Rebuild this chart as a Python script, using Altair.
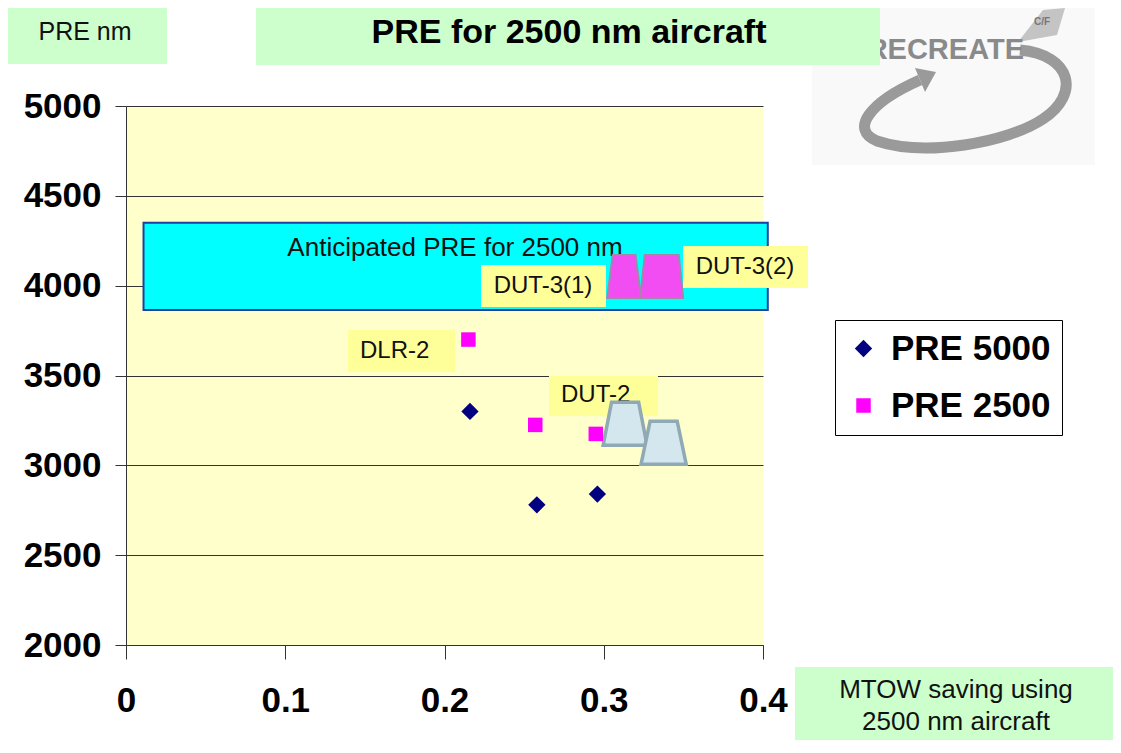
import altair as alt
import pandas as pd

# ---------------- data ----------------
x_ticks = [0, 0.1, 0.2, 0.3, 0.4]
y_ticks = [2000, 2500, 3000, 3500, 4000, 4500, 5000]

series_names = ["PRE 5000", "PRE 2500"]
pre5000_x = [0.216, 0.258, 0.296]
pre5000_y = [3300, 2780, 2840]
pre2500_x = [0.215, 0.257, 0.295]
pre2500_y = [3700, 3225, 3175]

trap_names = ["DUT-3(1)", "DUT-3(2)", "DUT-2 a", "DUT-2 b"]
trap_x = [0.3128, 0.3364, 0.3134, 0.3376]
trap_y = [4051, 4051, 3232, 3126]

band_x = [0.011, 0.403]
band_y = [3865, 4350]
band_text = "Anticipated PRE for 2500 nm"

title_text = "PRE for 2500 nm aircraft"
y_title_text = "PRE nm"
x_title_lines = ["MTOW saving using", "2500 nm aircraft"]
label_texts = ["DUT-3(1)", "DUT-3(2)", "DLR-2", "DUT-2"]

FONT = "Liberation Sans"

# ---------------- scales / axes ----------------
xs = alt.Scale(domain=[0, 0.4], nice=False, zero=False)
ys = alt.Scale(domain=[2000, 5000], nice=False, zero=False)
x_axis = alt.Axis(values=x_ticks, format="~g", title=None, grid=False,
                  tickSize=14, tickColor="#333", domainColor="#333",
                  labelFontSize=35, labelFontWeight="bold", labelFont=FONT,
                  labelColor="#000", labelPadding=24, labelFlush=False)
y_axis = alt.Axis(values=y_ticks, format="d", title=None, grid=True,
                  gridColor="#333", gridWidth=1, tickSize=11, tickColor="#333",
                  domainColor="#333", labelFontSize=35, labelFontWeight="bold",
                  labelFont=FONT, labelColor="#000", labelPadding=14, labelFlush=False)

one = alt.Data(values=[{}])


def box(x0, x1, y0, y1, fill, **kw):
    return alt.Chart(one).mark_rect(fill=fill, clip=False, **kw).encode(
        x=alt.value(x0), x2=alt.value(x1), y=alt.value(y0), y2=alt.value(y1))


def txt(s, x, y, size, weight="normal", align="center", color="#111"):
    return alt.Chart(one).mark_text(text=s, font=FONT, fontSize=size, fontWeight=weight,
                                    align=align, baseline="middle", color=color,
                                    clip=False).encode(x=alt.value(x), y=alt.value(y))


def glyph(path, x, y, **kw):
    return alt.Chart(one).mark_point(shape=path, size=4, clip=False, opacity=1, **kw).encode(
        x=alt.value(x), y=alt.value(y))


layers = []

# logo (decoration)
layers.append(box(686, 969, -98, 59, "#F9F9F9"))
layers.append(glyph("M55,-45 C108,-40 115,0 78,24 C42,48 -40,62 -88,46 C-115,35 -97,8 -45,-15",
                    839, -11, filled=False, stroke="#9a9a9a", strokeWidth=11))
layers.append(glyph("M16,-8 L5,12 L-5,-12 Z", 794, -26, filled=True, fill="#9a9a9a"))
layers.append(glyph("M-22,17 L3,-15 L25,-17 L17,10 Z", 914, -81, filled=True, fill="#c4c4c4"))
layers.append(txt("C/F", 916, -84, 10, "bold", color="#777"))
layers.append(txt("RECREATE", 898, -56, 29, "bold", align="right", color="#8a8a8a"))

# green header / footer boxes
layers.append(box(-118, 41, -98, -42, "#CCFFCC"))
layers.append(txt(y_title_text, -41, -74, 25))
layers.append(box(130, 754, -98, -41, "#CCFFCC"))
layers.append(txt(title_text, 443, -73, 34, "bold", color="#000"))
layers.append(box(669, 987, 561, 634, "#CCFFCC"))
layers.append(txt(x_title_lines[0], 830, 584, 26))
layers.append(txt(x_title_lines[1], 830, 616, 26))

# anticipated band
band_df = pd.DataFrame({"x": [band_x[0]], "x2": [band_x[1]], "y": [band_y[0]], "y2": [band_y[1]]})
layers.append(alt.Chart(band_df).mark_rect(fill="#00FFFF", stroke="#1F3FA0", strokeWidth=2,
                                            clip=False).encode(
    x=alt.X("x:Q", scale=xs, axis=x_axis), x2="x2:Q",
    y=alt.Y("y:Q", scale=ys, axis=y_axis), y2="y2:Q"))
layers.append(txt(band_text, 329, 142, 26))

# yellow labels
LBL = "#FFFF99"
layers.append(box(355, 480, 159, 201, LBL))
layers.append(txt(label_texts[0], 417, 180, 24))
layers.append(box(557, 682, 140, 182, LBL))
layers.append(txt(label_texts[1], 619, 161, 24))
layers.append(box(222, 329, 224, 266, LBL))
layers.append(txt(label_texts[2], 234, 245, 24, align="left"))
layers.append(box(423, 532, 270, 310, LBL))
layers.append(txt(label_texts[3], 435, 289, 24, align="left"))

# trapezoid markers
trap_paths = ["M-0.53,-1L0.53,-1L0.79,1L-0.79,1Z",
              "M-0.79,-1L0.79,-1L1.0,1L-1.0,1Z",
              "M-0.63,-1L0.63,-1L1.02,1L-1.02,1Z",
              "M-0.63,-1L0.63,-1L1.05,1L-1.05,1Z"]
trap_fill = ["#F24DF2", "#F24DF2", "#D4E6EE", "#D4E6EE"]
trap_stroke = ["#A487A8", "#A487A8", "#8FA9B5", "#8FA9B5"]
trap_sw = [2, 2, 3.5, 3.5]
for i in range(len(trap_names)):
    d = pd.DataFrame({"x": [trap_x[i]], "y": [trap_y[i]]})
    layers.append(alt.Chart(d).mark_point(shape=trap_paths[i], size=1849, filled=True,
                                          fill=trap_fill[i], stroke=trap_stroke[i],
                                          strokeWidth=trap_sw[i], opacity=1).encode(
        x=alt.X("x:Q", scale=xs, axis=x_axis), y=alt.Y("y:Q", scale=ys, axis=y_axis)))

# scatter series
pts = pd.DataFrame({
    "x": pre5000_x + pre2500_x,
    "y": pre5000_y + pre2500_y,
    "series": [series_names[0]] * len(pre5000_x) + [series_names[1]] * len(pre2500_x),
})
leg = alt.Legend(title=None, orient="none", legendX=709, legendY=214,
                 fillColor="#FFFFFF", strokeColor="#000", padding=11,
                 labelFont=FONT, labelFontSize=35, labelFontWeight="bold",
                 labelColor="#000", symbolSize=200, labelOffset=10, rowPadding=21,
                 symbolStrokeWidth=0)
layers.append(alt.Chart(pts).mark_point(filled=True, opacity=1).encode(
    x=alt.X("x:Q", scale=xs, axis=x_axis),
    y=alt.Y("y:Q", scale=ys, axis=y_axis),
    color=alt.Color("series:N", scale=alt.Scale(domain=series_names, range=["#000080", "#FF00FF"]),
                    legend=leg),
    shape=alt.Shape("series:N", scale=alt.Scale(domain=series_names, range=["diamond", "square"]),
                    legend=leg),
    size=alt.Size("series:N", scale=alt.Scale(domain=series_names, range=[300, 210]),
                  legend=None),
))

chart = alt.layer(*layers).properties(
    width=637, height=539,
    padding={"left": 118, "top": 98, "right": 350, "bottom": 95},
    autosize=alt.AutoSizeParams(type="none"),
    background="#FFFFFF",
).configure_view(fill="#FFFFCC", stroke="transparent")

chart.save("out.html", embed_options={"renderer": "svg", "actions": False})
